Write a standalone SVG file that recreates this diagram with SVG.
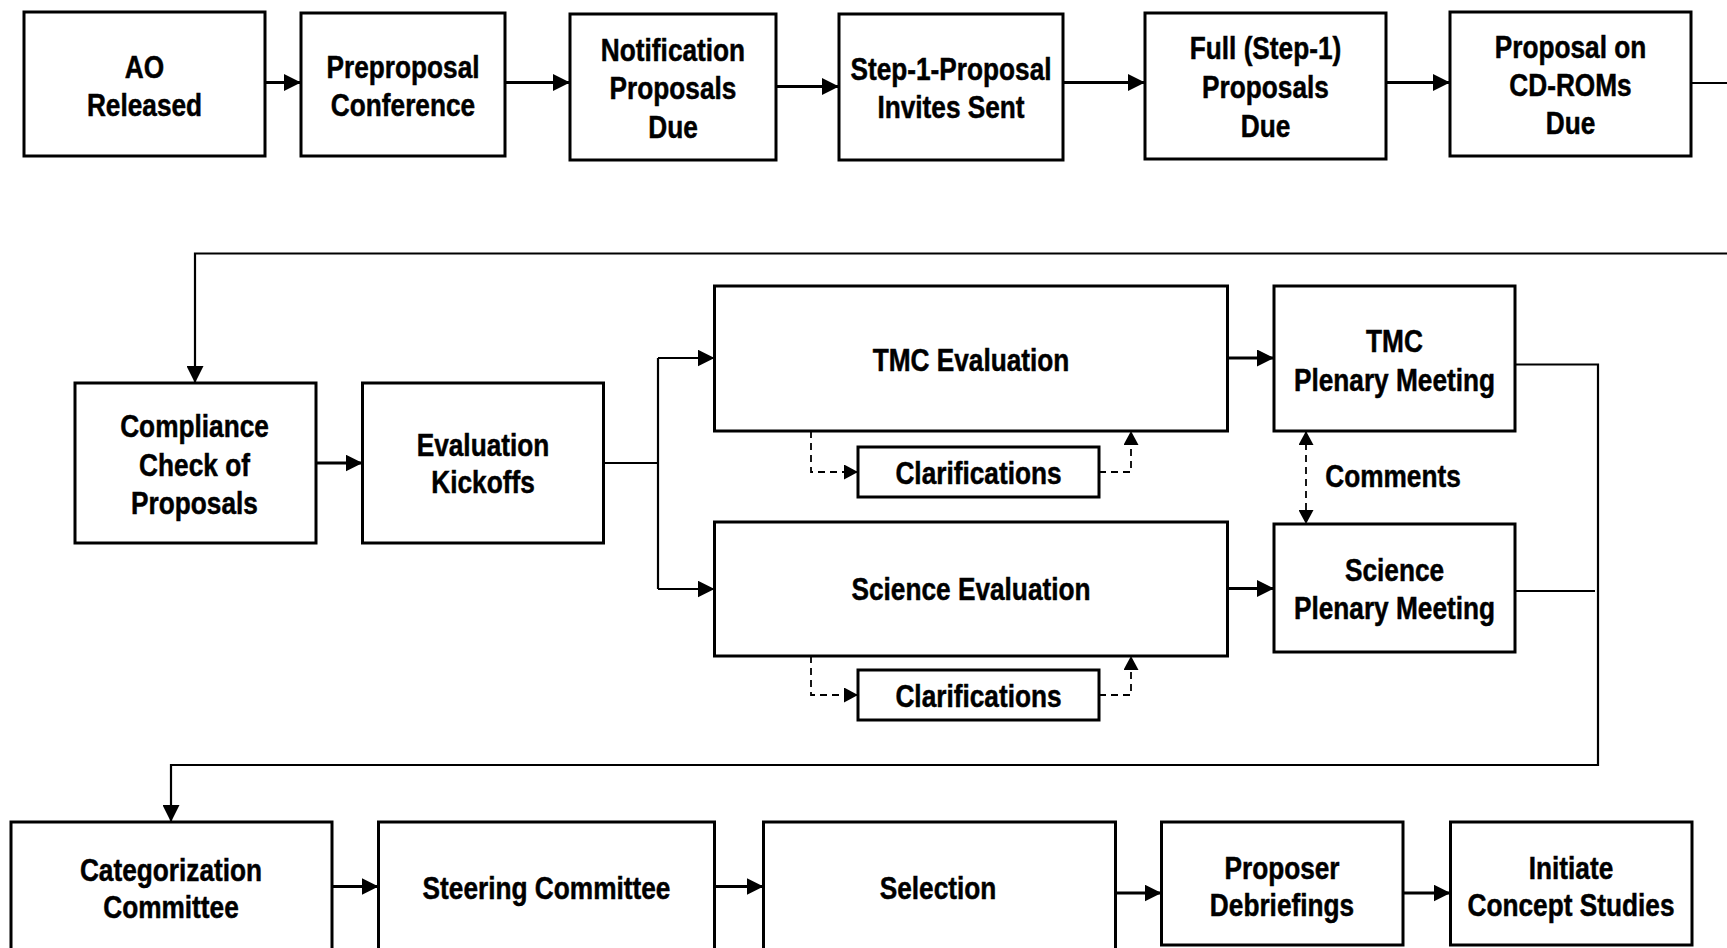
<svg xmlns="http://www.w3.org/2000/svg" width="1727" height="948" viewBox="0 0 1727 948">
<style>
.box{fill:#fff;stroke:#000;stroke-width:3}
.t{font-family:"Liberation Sans",Arial,sans-serif;font-weight:bold;font-size:32px;text-anchor:middle;fill:#000;stroke:#000;stroke-width:0.5}
.c{fill:none;stroke:#000;stroke-width:3}
.r{fill:none;stroke:#000;stroke-width:2.2}
.d{fill:none;stroke:#000;stroke-width:1.8;stroke-dasharray:7 5}
</style>
<defs>
<marker id="a" markerUnits="userSpaceOnUse" markerWidth="17" markerHeight="17" refX="17" refY="8.5" orient="auto-start-reverse" viewBox="0 0 17 17">
<path d="M0,0 L17,8.5 L0,17 z" fill="#000"/>
</marker>
<marker id="ad" markerUnits="userSpaceOnUse" markerWidth="15" markerHeight="15" refX="14" refY="7.5" orient="auto-start-reverse" viewBox="0 0 15 15">
<path d="M0,0 L14,7.5 L0,15 z" fill="#000"/>
</marker>
</defs>
<rect width="1727" height="948" fill="#fff"/>
<g id="connectors">
<path class="c" d="M265,82.5 H301" marker-end="url(#a)"/>
<path class="c" d="M505,82.5 H570" marker-end="url(#a)"/>
<path class="c" d="M776,86.5 H839" marker-end="url(#a)"/>
<path class="c" d="M1063,82.5 H1145" marker-end="url(#a)"/>
<path class="c" d="M1386,82.5 H1450" marker-end="url(#a)"/>
<path class="r" d="M1691,83 H1727"/>
<path class="r" d="M1727,253.5 H195 V383" marker-end="url(#a)"/>
<path class="c" d="M316,463 H362.5" marker-end="url(#a)"/>
<path class="r" d="M603.5,463 H658"/>
<path class="r" d="M658,358 V589"/>
<path class="r" d="M658,358 H714.5" marker-end="url(#a)"/>
<path class="r" d="M658,589 H714.5" marker-end="url(#a)"/>
<path class="c" d="M1227.5,358 H1274" marker-end="url(#a)"/>
<path class="c" d="M1227.5,588.5 H1274" marker-end="url(#a)"/>
<path class="d" d="M811,431 V472 H858" marker-end="url(#ad)"/>
<path class="d" d="M1099,472 H1131 V431" marker-end="url(#ad)"/>
<path class="d" d="M811,656 V695 H858" marker-end="url(#ad)"/>
<path class="d" d="M1099,695 H1131 V656" marker-end="url(#ad)"/>
<path class="d" d="M1306,431 V524" marker-start="url(#ad)" marker-end="url(#ad)"/>
<path class="r" d="M1515,364.5 H1598 V765 H171 V822" marker-end="url(#a)"/>
<path class="r" d="M1515,591 H1595"/>
<path class="c" d="M332,886.5 H378.5" marker-end="url(#a)"/>
<path class="c" d="M714.5,886.5 H763.5" marker-end="url(#a)"/>
<path class="c" d="M1115.5,893 H1161.5" marker-end="url(#a)"/>
<path class="c" d="M1403,893 H1450.5" marker-end="url(#a)"/>
</g>
<g id="n-ao"><rect class="box" x="24" y="12" width="241" height="144"/><text class="t" transform="translate(144.5 0) scale(0.82 1)"><tspan x="0" y="78">AO</tspan><tspan x="0" y="116">Released</tspan></text></g>
<g id="n-preproposal"><rect class="box" x="301" y="13" width="204" height="143"/><text class="t" transform="translate(403 0) scale(0.82 1)"><tspan x="0" y="78">Preproposal</tspan><tspan x="0" y="116">Conference</tspan></text></g>
<g id="n-notification"><rect class="box" x="570" y="14" width="206" height="146"/><text class="t" transform="translate(673 0) scale(0.82 1)"><tspan x="0" y="61">Notification</tspan><tspan x="0" y="99">Proposals</tspan><tspan x="0" y="138">Due</tspan></text></g>
<g id="n-step1"><rect class="box" x="839" y="14" width="224" height="146"/><text class="t" transform="translate(951 0) scale(0.82 1)"><tspan x="0" y="80.5">Step-1-Proposal</tspan><tspan x="0" y="118">Invites Sent</tspan></text></g>
<g id="n-full"><rect class="box" x="1145" y="13" width="241" height="146"/><text class="t" transform="translate(1265.5 0) scale(0.82 1)"><tspan x="0" y="59.5">Full (Step-1)</tspan><tspan x="0" y="98">Proposals</tspan><tspan x="0" y="137">Due</tspan></text></g>
<g id="n-cdrom"><rect class="box" x="1450" y="12" width="241" height="144"/><text class="t" transform="translate(1570.5 0) scale(0.82 1)"><tspan x="0" y="58.5">Proposal on</tspan><tspan x="0" y="96">CD-ROMs</tspan><tspan x="0" y="134.5">Due</tspan></text></g>
<g id="n-compliance"><rect class="box" x="75" y="383" width="241" height="160"/><text class="t" transform="translate(194.5 0) scale(0.82 1)"><tspan x="0" y="437">Compliance</tspan><tspan x="0" y="476">Check of</tspan><tspan x="0" y="514.5">Proposals</tspan></text></g>
<g id="n-kickoffs"><rect class="box" x="362.5" y="383" width="241" height="160"/><text class="t" transform="translate(483 0) scale(0.82 1)"><tspan x="0" y="456">Evaluation</tspan><tspan x="0" y="493.5">Kickoffs</tspan></text></g>
<g id="n-tmc-eval"><rect class="box" x="714.5" y="286" width="513" height="145"/><text class="t" transform="translate(971 0) scale(0.82 1)" x="0" y="371">TMC Evaluation</text></g>
<g id="n-tmc-plenary"><rect class="box" x="1274" y="286" width="241" height="145"/><text class="t" transform="translate(1394.5 0) scale(0.82 1)"><tspan x="0" y="352.5">TMC</tspan><tspan x="0" y="391">Plenary Meeting</tspan></text></g>
<g id="n-clar1"><rect class="box" x="858" y="447" width="241" height="50"/><text class="t" transform="translate(978.5 0) scale(0.82 1)" x="0" y="484">Clarifications</text></g>
<g id="n-comments"><text class="t" transform="translate(1393 0) scale(0.82 1)" x="0" y="487">Comments</text></g>
<g id="n-sci-eval"><rect class="box" x="714.5" y="522" width="513" height="134"/><text class="t" transform="translate(971 0) scale(0.82 1)" x="0" y="600">Science Evaluation</text></g>
<g id="n-sci-plenary"><rect class="box" x="1274" y="524" width="241" height="128"/><text class="t" transform="translate(1394.5 0) scale(0.82 1)"><tspan x="0" y="581.5">Science</tspan><tspan x="0" y="619">Plenary Meeting</tspan></text></g>
<g id="n-clar2"><rect class="box" x="858" y="670" width="241" height="50"/><text class="t" transform="translate(978.5 0) scale(0.82 1)" x="0" y="707">Clarifications</text></g>
<g id="n-categorization"><rect class="box" x="11" y="822" width="321" height="150"/><text class="t" transform="translate(171 0) scale(0.82 1)"><tspan x="0" y="881">Categorization</tspan><tspan x="0" y="918">Committee</tspan></text></g>
<g id="n-steering"><rect class="box" x="378.5" y="822" width="336" height="150"/><text class="t" transform="translate(546.5 0) scale(0.82 1)" x="0" y="899">Steering Committee</text></g>
<g id="n-selection"><rect class="box" x="763.5" y="822" width="352" height="150"/><text class="t" transform="translate(938 0) scale(0.82 1)" x="0" y="899">Selection</text></g>
<g id="n-debriefings"><rect class="box" x="1161.5" y="822" width="241.5" height="123"/><text class="t" transform="translate(1282 0) scale(0.82 1)"><tspan x="0" y="879">Proposer</tspan><tspan x="0" y="916">Debriefings</tspan></text></g>
<g id="n-initiate"><rect class="box" x="1450.5" y="822" width="241.5" height="123"/><text class="t" transform="translate(1571 0) scale(0.82 1)"><tspan x="0" y="879">Initiate</tspan><tspan x="0" y="916">Concept Studies</tspan></text></g>
</svg>
